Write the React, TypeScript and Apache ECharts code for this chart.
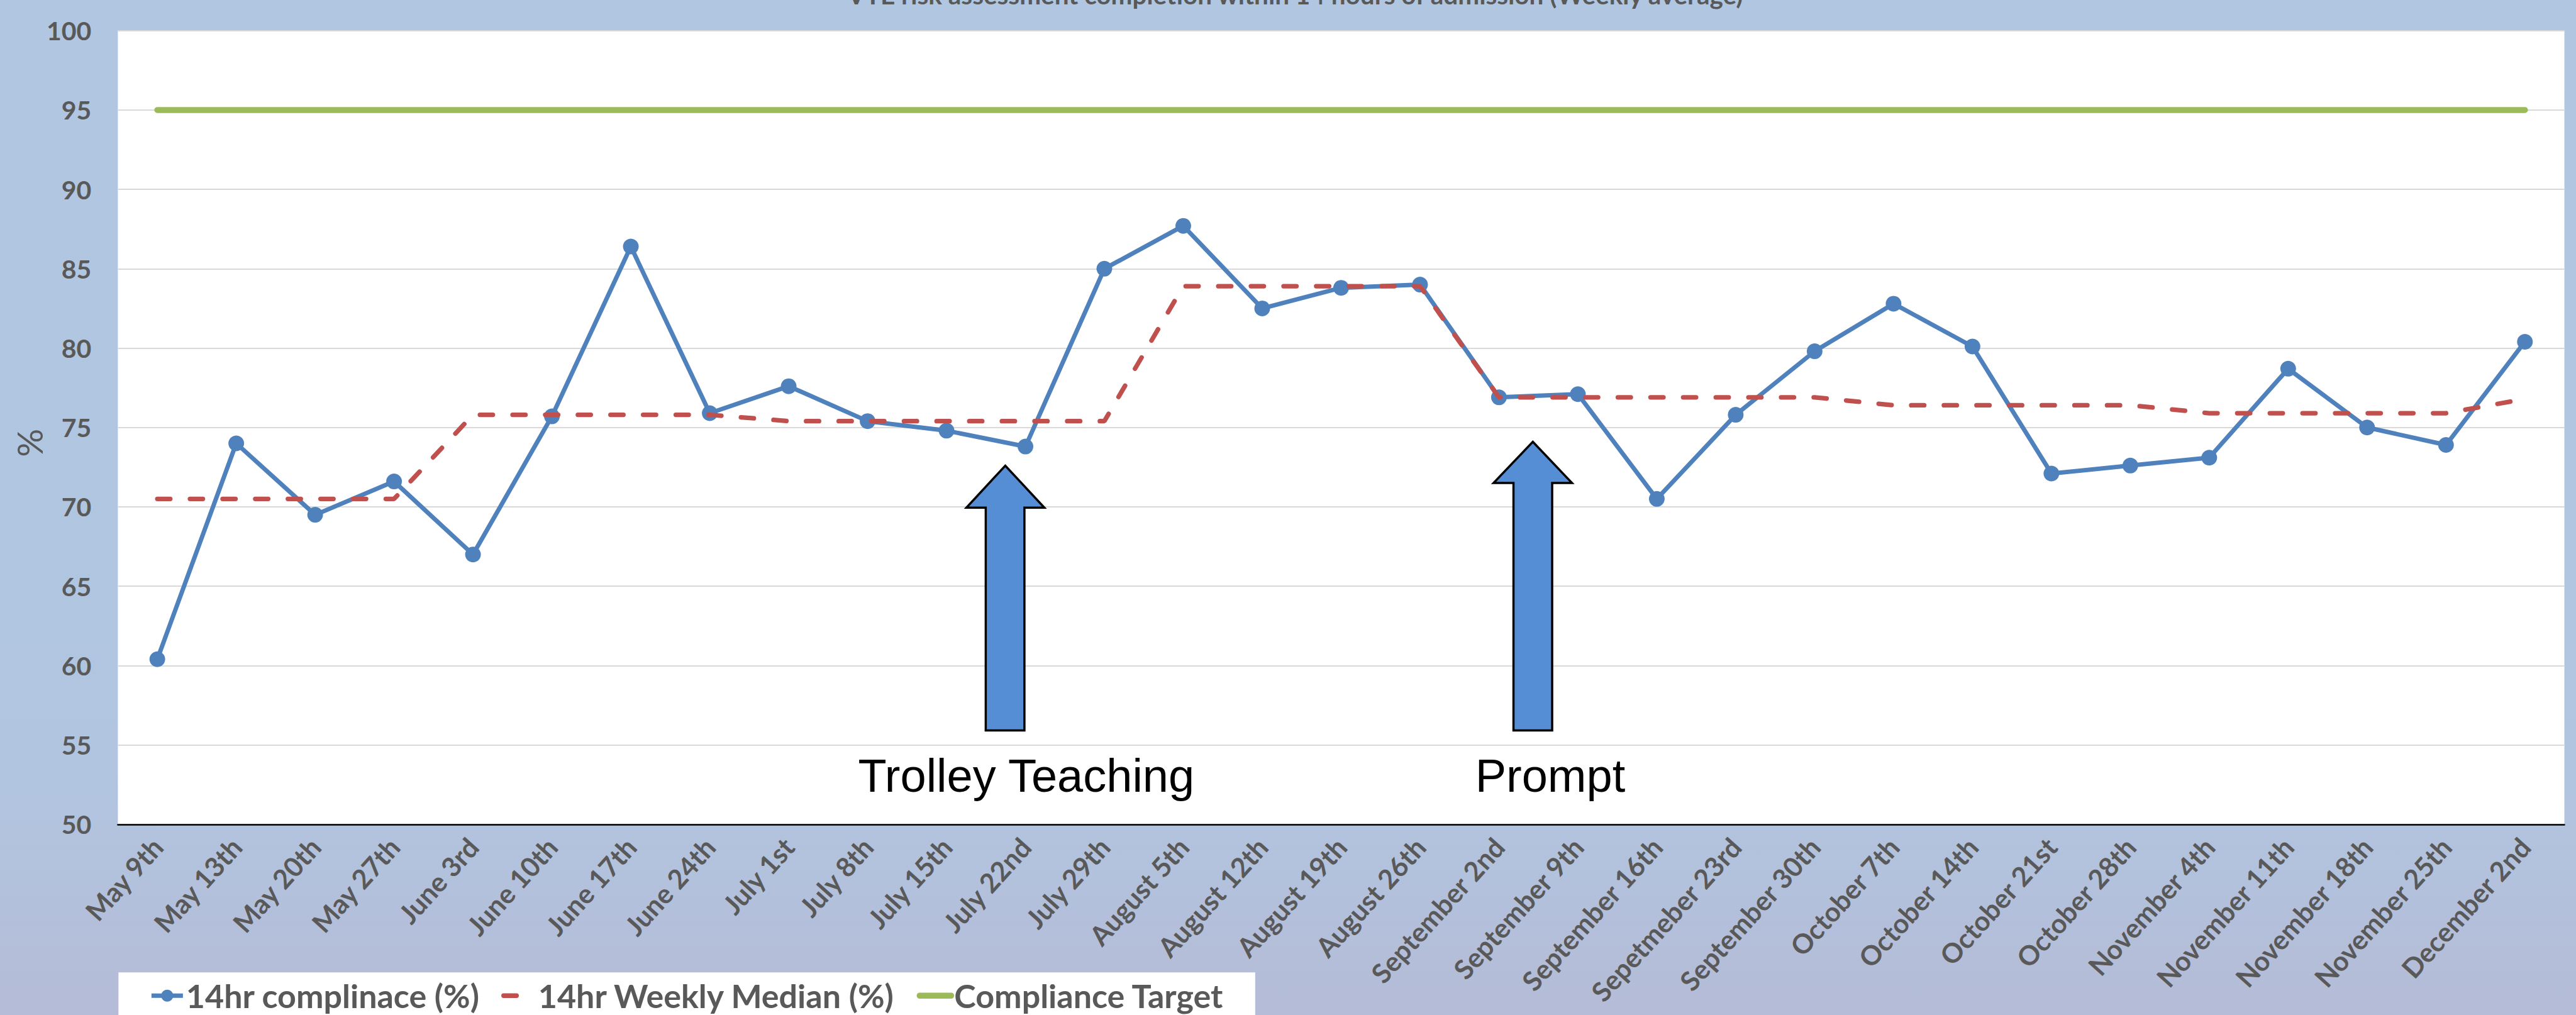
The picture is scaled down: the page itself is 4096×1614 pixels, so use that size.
import React, { useEffect, useRef } from "react";
import * as echarts from "echarts";

const S = 0.961;
const FONT = "Lato, 'Open Sans', sans-serif";

const weeks = [
  "May 9th", "May 13th", "May 20th", "May 27th", "June 3rd", "June 10th", "June 17th", "June 24th",
  "July 1st", "July 8th", "July 15th", "July 22nd", "July 29th", "August 5th", "August 12th",
  "August 19th", "August 26th", "September 2nd", "September 9th", "September 16th", "Sepetmeber 23rd",
  "September 30th", "October 7th", "October 14th", "October 21st", "October 28th", "November 4th",
  "November 11th", "November 18th", "November 25th", "December 2nd",
];

const compliance = [
  60.4, 74.0, 69.5, 71.6, 67.0, 75.7, 86.4, 75.9, 77.6, 75.4, 74.8, 73.8, 85.0, 87.7, 82.5, 83.8,
  84.0, 76.9, 77.1, 70.5, 75.8, 79.8, 82.8, 80.1, 72.1, 72.6, 73.1, 78.7, 75.0, 73.9, 80.4,
];

const weeklyMedian = [
  70.5, 70.5, 70.5, 70.5, 75.8, 75.8, 75.8, 75.8, 75.4, 75.4, 75.4, 75.4, 75.4, 83.9, 83.9, 83.9,
  83.9, 76.9, 76.9, 76.9, 76.9, 76.9, 76.4, 76.4, 76.4, 76.4, 75.9, 75.9, 75.9, 75.9, 76.8,
];

const complianceTarget = [
  95, 95, 95, 95, 95, 95, 95, 95, 95, 95, 95, 95, 95, 95, 95, 95,
  95, 95, 95, 95, 95, 95, 95, 95, 95, 95, 95, 95, 95, 95, 95,
];

const yMin = 50;
const yMax = 100;
const yStep = 5;

const seriesNames = ["14hr complinace (%)", "14hr Weekly Median (%)", "Compliance Target"];
const titleText = "VTE risk assessment completion within 14 hours of admission (Weekly average)";
const annotations = ["Trolley Teaching", "Prompt"];

function arrowPoints(tipX: number, tipY: number, baseY: number, headL: number, headR: number, shaftL: number, shaftR: number, bottom: number) {
  return [
    [tipX, tipY], [headR, baseY], [shaftR, baseY], [shaftR, bottom],
    [shaftL, bottom], [shaftL, baseY], [headL, baseY],
  ].map(([x, y]) => [x * S, y * S]);
}

export default function App() {
  const ref = useRef<HTMLDivElement>(null);
  useEffect(() => {
    document.body.style.margin = "0";
    const chart = echarts.init(ref.current!, null, { renderer: "svg", width: 4096, height: 1614 });
    const option: any = {
      animation: false,
      backgroundColor: "transparent",
      grid: {
        left: 195 * S,
        right: 4096 - 4243 * S,
        top: 50.7 * S,
        bottom: 1614 - 1364 * S,
        show: true,
        backgroundColor: "#ffffff",
        borderWidth: 0,
        containLabel: false,
        outerBoundsMode: "none",
      },
      legend: {
        left: 196 * S,
        top: 1609 * S,
        orient: "horizontal",
        padding: [9, 50, 60, 49],
        backgroundColor: "#ffffff",
        itemWidth: 50,
        itemHeight: 24,
        itemGap: 34,
        textStyle: { fontFamily: FONT, fontWeight: "bold", fontSize: 52, color: "#595959", lineHeight: 56 },
        data: [
          { name: seriesNames[0], lineStyle: { width: 7 } },
          { name: seriesNames[1], itemStyle: { opacity: 0 }, lineStyle: { width: 7.3 } },
          { name: seriesNames[2], itemStyle: { opacity: 0 }, lineStyle: { width: 9.6 } },
        ],
      },
      xAxis: {
        type: "category",
        data: weeks,
        boundaryGap: true,
        axisLine: { show: true, lineStyle: { color: "#000000", width: 2.5 } },
        axisTick: { show: false },
        splitLine: { show: false },
        axisLabel: {
          interval: 0,
          rotate: 48,
          margin: 28,
          fontFamily: FONT,
          fontWeight: "bold",
          fontSize: 43,
          color: "#595959",
        },
      },
      yAxis: {
        type: "value",
        min: yMin,
        max: yMax,
        interval: yStep,
        axisLine: { show: false },
        axisTick: { show: false },
        splitLine: { show: true, lineStyle: { color: "#D9D9D9", width: 2 } },
        axisLabel: {
          margin: 42,
          fontFamily: FONT,
          fontWeight: "bold",
          fontSize: 41,
          color: "#595959",
        },
      },
      series: [
        {
          name: seriesNames[0],
          type: "line",
          data: compliance,
          symbol: "circle",
          symbolSize: 25,
          itemStyle: { color: "#4F81BD" },
          lineStyle: { color: "#4F81BD", width: 7, join: "round" },
          z: 2,
        },
        {
          name: seriesNames[1],
          type: "line",
          data: weeklyMedian,
          symbol: "none",
          itemStyle: { color: "#C0504D" },
          lineStyle: { color: "#C0504D", width: 7.3, type: [20.6, 31.3], cap: "round" },
          z: 3,
        },
        {
          name: seriesNames[2],
          type: "line",
          data: complianceTarget,
          symbol: "none",
          itemStyle: { color: "#9BBB59" },
          lineStyle: { color: "#9BBB59", width: 9.6, cap: "round" },
          z: 4,
        },
      ],
      graphic: [
        {
          type: "text",
          x: 2143 * S,
          y: 5 * S - 0.33 * 40,
          style: { text: titleText, fontFamily: FONT, fontWeight: "bold", fontSize: 40.5, fill: "#595959", align: "center", verticalAlign: "middle" },
        },
        {
          type: "text",
          x: 48 * S,
          y: 733 * S,
          rotation: Math.PI / 2,
          style: { text: "%", fontFamily: FONT, fontSize: 56, fill: "#595959", align: "center", verticalAlign: "middle" },
        },
        {
          type: "polygon",
          z: 100,
          shape: { points: arrowPoints(1663.3, 770.5, 840, 1599, 1728, 1631, 1695, 1208.7) },
          style: { fill: "#558ED5", stroke: "#000000", lineWidth: 3.5, lineJoin: "miter" },
        },
        {
          type: "polygon",
          z: 100,
          shape: { points: arrowPoints(2536.2, 731, 799.2, 2471.2, 2601, 2504.2, 2568.2, 1208.7) },
          style: { fill: "#558ED5", stroke: "#000000", lineWidth: 3.5, lineJoin: "miter" },
        },
        {
          type: "text",
          z: 100,
          x: 1698 * S,
          y: 1310 * S - 0.3465 * 74,
          style: { text: annotations[0], fontFamily: "'Liberation Sans', Arial, sans-serif", fontSize: 74, fill: "#000000", align: "center", verticalAlign: "middle" },
        },
        {
          type: "text",
          z: 100,
          x: 2565 * S,
          y: 1310 * S - 0.3465 * 74,
          style: { text: annotations[1], fontFamily: "'Liberation Sans', Arial, sans-serif", fontSize: 74, fill: "#000000", align: "center", verticalAlign: "middle" },
        },
      ],
    };
    chart.setOption(option);
    return () => chart.dispose();
  }, []);
  return (
    <div
      ref={ref}
      style={{
        position: "absolute",
        left: 0,
        top: 0,
        width: 4096,
        height: 1614,
        background: "linear-gradient(180deg, #B0C6E1 0%, #B1C5E0 76%, #B5BCD7 100%)",
      }}
    />
  );
}
